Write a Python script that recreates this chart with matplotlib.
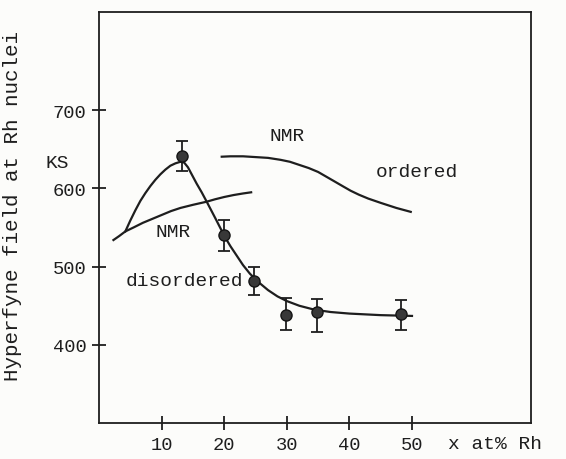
import matplotlib
matplotlib.use('Agg')
import matplotlib.pyplot as plt
import numpy as np

# measured points (x at% Rh, hyperfine field in kOe)
conc = [13.2, 20.0, 24.8, 29.9, 34.9, 48.2]
field = [642, 540, 482, 438, 442, 439]
field_lo = [622, 520, 464, 419, 417, 419]
field_hi = [660, 560, 500, 460, 458, 457]

# hand drawn curve through the points
fit_x = [4.2, 5.0, 5.8, 6.6, 7.4, 8.2, 9.0, 9.8, 10.6, 11.4, 12.2, 13.0,
         13.6, 14.2, 14.8, 15.6, 16.4, 17.2, 18.7, 20.1, 21.0, 22.0, 23.0,
         24.1, 25.5, 27.0, 28.5, 30.0, 32.0, 34.4, 37.0, 40.0, 45.0, 50.0]
fit_y = [545, 559, 572, 584, 594, 603, 611, 618, 624, 629, 632, 634,
         633, 627, 618, 606, 595, 583, 560, 538, 526, 514, 502,
         491, 480, 470, 462, 456, 450, 445, 442, 440, 438, 437]

# NMR, disordered alloys
dis_x = [2.3, 3.2, 4.2, 5.5, 7.0, 8.5, 10.0, 11.5, 13.0, 15.0, 17.2, 18.5,
         20.0, 21.5, 23.0, 24.3]
dis_y = [534, 539, 545, 550, 556, 561, 566, 571, 575, 579, 583, 586,
         589, 591.5, 593.5, 595]

# NMR, ordered alloys
ord_x = [19.6, 21.0, 23.0, 25.0, 27.0, 29.0, 30.5, 32.0, 33.5, 35.0, 36.3,
         37.6, 39.0, 40.2, 41.5, 43.0, 45.0, 47.5, 49.8]
ord_y = [640.5, 641, 641, 640, 639, 636.5, 634, 630, 626, 621, 615,
         609, 602.5, 597, 592, 587, 581.5, 575, 570]

xticks = [10, 20, 30, 40, 50]
yticks = [400, 500, 600, 700]

font = ['Liberation Mono', 'DejaVu Sans Mono']
ink = '#1e1e1e'
paper = '#fcfcfa'

fig = plt.figure(figsize=(5.66, 4.60), dpi=100, facecolor=paper)
ax = fig.add_axes([0.175, 0.078, 0.763, 0.893], facecolor=paper)

for cx, cy in [(fit_x, fit_y), (dis_x, dis_y), (ord_x, ord_y)]:
    ax.plot(cx, cy, color=ink, lw=1.6, solid_joinstyle='round')

yerr = [np.array(field) - np.array(field_lo), np.array(field_hi) - np.array(field)]
ax.errorbar(conc, field, yerr=yerr, fmt='o', ms=8, mfc='#383838', mec='#151515',
            ecolor=ink, elinewidth=1.3, capsize=4, capthick=1.3, zorder=3)

ax.set_xlim(0, 69)
ax.set_ylim(300, 825)
ax.set_xticks(xticks)
ax.set_yticks(yticks)
ax.tick_params(direction='inout', length=10, width=1.3, color=ink,
               labelsize=13.5, labelcolor=ink)
ax.tick_params(axis='y', pad=4)
ax.tick_params(axis='x', pad=4)
for lab in ax.get_xticklabels() + ax.get_yticklabels():
    lab.set_family(font)
for sp in ax.spines.values():
    sp.set_color(ink)
    sp.set_linewidth(1.3)

ax.set_ylabel('Hyperfyne field at Rh nuclei', family=font, fontsize=15, color=ink)
ax.yaxis.set_label_coords(-0.178, 0.531)

txt = dict(family=font, fontsize=14, color=ink)
ax.text(-8.6, 633, 'KS', ha='left', va='center', clip_on=False, **txt)
ax.text(30.0, 668, 'NMR', ha='center', va='center', **txt)
ax.text(50.8, 621, 'ordered', ha='center', va='center', **txt)
ax.text(11.9, 545, 'NMR', ha='center', va='center', **txt)
ax.text(13.7, 482, 'disordered', ha='center', va='center', **txt)
ax.text(0.808, -0.05, 'x at% Rh', transform=ax.transAxes, ha='left', va='center',
        clip_on=False, **txt)

fig.savefig('out.png', dpi=100, facecolor=paper)
